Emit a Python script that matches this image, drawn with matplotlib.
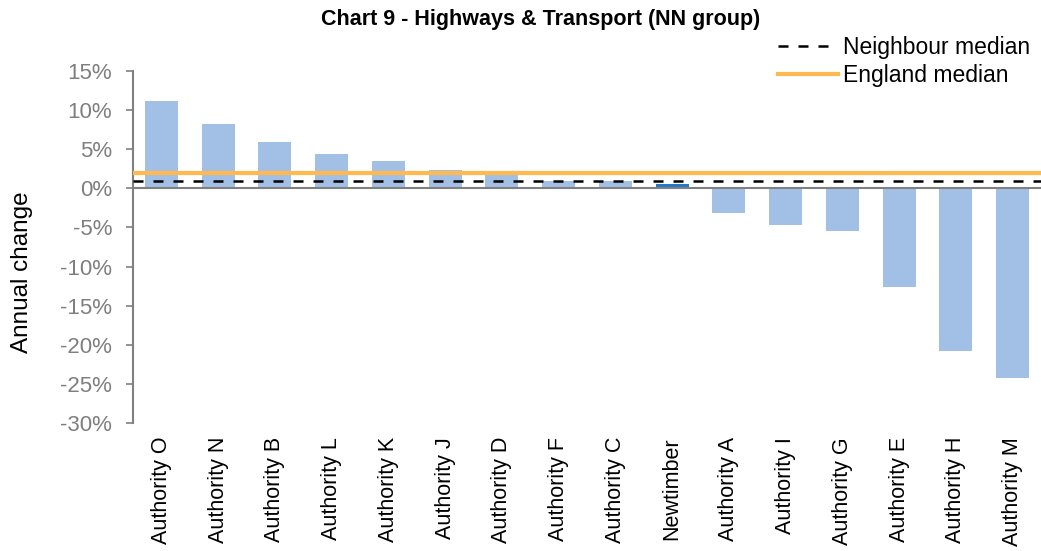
import matplotlib.pyplot as plt
import numpy as np

plt.rcParams['font.family'] = ['Liberation Sans', 'DejaVu Sans']

authorities = ["Authority O", "Authority N", "Authority B", "Authority L", "Authority K",
               "Authority J", "Authority D", "Authority F", "Authority C", "Newtimber",
               "Authority A", "Authority I", "Authority G", "Authority E", "Authority H",
               "Authority M"]
change = [11.2, 8.2, 5.9, 4.4, 3.5, 2.4, 1.8, 0.9, 0.9, 0.6,
          -3.2, -4.7, -5.5, -12.6, -20.8, -24.3]
highlight = "Newtimber"
neighbour_median = 0.9
england_median = 2.0

light = "#A2BFE5"
dark = "#1F78C8"
grey = "#808080"

fig = plt.figure(figsize=(10.41, 5.51), dpi=100)
ax = fig.add_axes([133 / 1041, 1 - 423 / 551, 908 / 1041, 352 / 551])

x = np.arange(len(authorities))
colors = [dark if a == highlight else light for a in authorities]
ax.bar(x, change, width=0.58, color=colors, zorder=2)
ax.axhline(0, color=grey, lw=1.5, zorder=3)
ln1 = ax.axhline(neighbour_median, color="black", lw=1.8, ls=(0, (4, 4)), zorder=4,
                 label="Neighbour median")
ln2 = ax.axhline(england_median, color="#FFB94F", lw=3, zorder=4, label="England median")

ax.set_xlim(-0.5, len(authorities) - 0.5)
ax.set_ylim(-30, 15)
ax.set_yticks(range(-30, 16, 5))
ax.set_yticklabels([f"{v}%" for v in range(-30, 16, 5)])
ax.tick_params(axis="y", colors=grey, labelsize=16, length=5, width=1.2, pad=10)
ax.tick_params(axis="y", labelcolor="#7F7F7F")
ax.set_xticks(x)
ax.set_xticklabels(authorities, rotation=90, fontsize=15.5)
ax.tick_params(axis="x", length=0, pad=10)
for s in ["top", "right", "bottom"]:
    ax.spines[s].set_visible(False)
ax.spines["left"].set_color(grey)
ax.spines["left"].set_linewidth(1.5)

fig.text(22 / 1041, 1 - 272 / 551, "Annual change", rotation=90, ha="center", va="center",
         fontsize=17.5)
fig.text(0.519, 1 - 20 / 551, "Chart 9 - Highways & Transport (NN group)", ha="center",
         va="center", fontsize=15.5, fontweight="bold")
fig.legend(handles=[ln1, ln2], loc="upper left", bbox_to_anchor=(778 / 1041, 1 - 36 / 551),
           frameon=False, fontsize=16.5, handlelength=2.6, handletextpad=0.22,
           labelspacing=0.22, borderpad=0, borderaxespad=0)

plt.savefig("out.png", dpi=100)
